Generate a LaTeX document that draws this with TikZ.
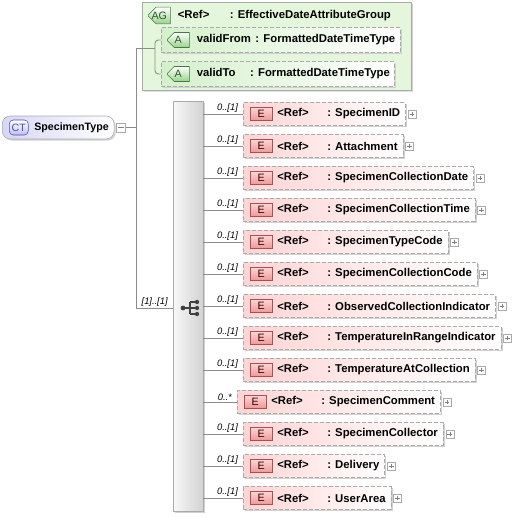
\documentclass[tikz,border=0pt]{standalone}
\usepackage{fontspec}
\setmainfont{Liberation Sans}
\usepackage{tikz}
\usetikzlibrary{positioning,shapes.misc,shadows}
\definecolor{linegray}{RGB}{140,140,140}
\definecolor{boxgray}{RGB}{170,170,170}
\definecolor{elpink}{RGB}{255,212,212}
\definecolor{ebadgered}{RGB}{238,150,150}
\definecolor{ebadgeline}{RGB}{170,80,80}
\definecolor{aggreen}{RGB}{228,247,220}
\definecolor{attrgreen}{RGB}{212,240,202}
\definecolor{abadgegreen}{RGB}{150,212,136}
\definecolor{abadgeline}{RGB}{70,120,70}
\definecolor{ctblue}{RGB}{214,214,248}
\definecolor{ctbadgeblue}{RGB}{190,190,246}
\definecolor{ctbadgeline}{RGB}{80,80,150}
\definecolor{seqlight}{RGB}{248,248,248}
\definecolor{seqdark}{RGB}{210,210,210}

\newcommand{\namefont}{\fontsize{8.5}{10}\selectfont\bfseries}
\newcommand{\cardfont}{\fontsize{7}{8}\selectfont\itshape}
\newcommand{\badgefont}{\fontsize{8}{9}\selectfont}

\tikzset{
  link/.style={draw=linegray, line width=0.7pt},
  boxshadow/.style={drop shadow={shadow xshift=1.2pt, shadow yshift=-1.2pt, fill=black!18, opacity=1}},
  elbox/.style={draw=boxgray, dash pattern=on 3pt off 1.5pt, left color=elpink, right color=white,
    minimum height=17pt, inner xsep=4pt, inner ysep=0pt, anchor=west, font=\namefont, boxshadow},
  ebadge/.style={draw=ebadgeline, top color=elpink, bottom color=ebadgered, text=black!80!red,
    minimum width=16.5pt, minimum height=9.75pt, inner sep=0pt, font=\badgefont},
  plusbox/.style={draw=boxgray, fill=white, minimum size=6pt, inner sep=0pt,
    path picture={\draw[gray] ([xshift=1.2pt]path picture bounding box.west) -- ([xshift=-1.2pt]path picture bounding box.east)
      ([yshift=-1.2pt]path picture bounding box.north) -- ([yshift=1.2pt]path picture bounding box.south);}},
  minusbox/.style={draw=boxgray, fill=white, minimum size=6.5pt, inner sep=0pt,
    path picture={\draw[gray] ([xshift=1.2pt]path picture bounding box.west) -- ([xshift=-1.2pt]path picture bounding box.east);}},
  card/.style={font=\cardfont, inner sep=0.5pt, anchor=south east, xshift=-3pt},
  seqbox/.style={draw=boxgray, left color=seqlight, right color=seqdark, minimum width=22.5pt,
    minimum height=307.5pt, boxshadow},
  ctbox/.style={draw=boxgray, rounded corners=6pt, left color=ctblue, right color=white, anchor=west,
    minimum height=17.25pt, inner xsep=4pt, font=\fontsize{8}{10}\selectfont\bfseries, boxshadow},
  ctbadge/.style={draw=ctbadgeline, rounded corners=3pt, top color=white, bottom color=ctbadgeblue,
    text=ctbadgeline, minimum width=14.25pt, minimum height=11.25pt, inner sep=0pt, font=\badgefont},
  agbox/.style={chamfered rectangle, chamfered rectangle corners={north west,south west},
    chamfered rectangle xsep=6pt, draw=boxgray, fill=aggreen, minimum width=201.75pt,
    minimum height=66pt, inner sep=0pt, anchor=west, boxshadow},
  attrbox/.style={chamfered rectangle, chamfered rectangle corners={north west,south west},
    chamfered rectangle xsep=5pt, draw=boxgray, dash pattern=on 3pt off 1.5pt, left color=attrgreen,
    right color=white, minimum height=18.75pt, inner sep=0pt, anchor=west, boxshadow},
  abadge/.style={chamfered rectangle, chamfered rectangle corners={north west,south west},
    chamfered rectangle xsep=2.5pt, draw=abadgeline, top color=white, bottom color=abadgegreen,
    text=abadgeline!70!black, minimum width=16.5pt, minimum height=11.25pt, inner sep=0pt, font=\badgefont},
  attrtext/.style={font=\namefont, inner sep=0pt},
  symline/.style={draw=black!75, line width=0.8pt}
}

\begin{document}
\begin{tikzpicture}[x=0.75pt, y=-0.75pt]
    \useasboundingbox (0,0) rectangle (512,518);

    % complex type
    \node[ctbox] (ct) at (2,127.5) {\hspace{20pt}SpecimenType\hspace{3pt}};
    \node[ctbadge, right=5.25pt of ct.west] (ctb) {CT};
    \node[minusbox, right=1.5pt of ct.east] (ctm) {};

    % attribute group
    \node[agbox] (ag) at (142,46) {};
    \node[abadge, anchor=west] (agb) at (148,15.5) {AG};
    \node[attrtext, right=5.25pt of agb] (agt) {\makebox[39pt][l]{<Ref>}: EffectiveDateAttributeGroup};
    \node[attrbox, minimum width=179.25pt] (vfrom) at (161,40) {};
    \node[abadge, right=4.5pt of vfrom.west] (vfromb) {A};
    \node[attrtext, right=5.25pt of vfromb] (vfromt) {\makebox[44pt][l]{validFrom}: FormattedDateTimeType};
    \node[attrbox, minimum width=174.75pt] (vto) at (161,74) {};
    \node[abadge, right=4.5pt of vto.west] (vtob) {A};
    \node[attrtext, right=5.25pt of vtob] (vtot) {\makebox[40pt][l]{validTo}: FormattedDateTimeType};

    % sequence
    \node[seqbox] (seq) at (188,306) {};
    \coordinate (trunktop) at (136.5,48);
    \coordinate (trunkbot) at (136.5,308);
    \coordinate (agfork) at (155,48);
    \draw[link] (ctm.east) -- (ctm.east -| trunktop);
    \draw[link] (agfork) -- (trunktop) -- (trunkbot) -- (seq.west |- trunkbot) node[card] {[1]..[1]};
    \draw[link, rounded corners=2.5pt] (vfrom.west) -| (agfork) |- (vto.west);
    \draw[symline] (183,308) -- (190,308) (190,302) -- (190,314)
        (190,302) -- (197,302) (190,308) -- (197,308) (190,314) -- (197,314);
    \fill[black!75] (183,308) circle (1.8pt) (197,302) circle (1.6pt) (197,308) circle (1.6pt) (197,314) circle (1.6pt);

    % elements
    \node[elbox] (e1) at (243,114) {\hspace{21.5pt}\makebox[37.5pt][l]{<Ref>}: SpecimenID};
    \node[ebadge, right=5.25pt of e1.west] (e1b) {E};
    \node[plusbox, right=1.5pt of e1.east] (e1p) {};
    \draw[link] (seq.east |- e1.west) -- (e1.west) node[card] {0..[1]};

    \node[elbox] (e2) at (243,146) {\hspace{21.5pt}\makebox[37.5pt][l]{<Ref>}: Attachment};
    \node[ebadge, right=5.25pt of e2.west] (e2b) {E};
    \node[plusbox, right=1.5pt of e2.east] (e2p) {};
    \draw[link] (seq.east |- e2.west) -- (e2.west) node[card] {0..[1]};

    \node[elbox] (e3) at (243,178) {\hspace{21.5pt}\makebox[37.5pt][l]{<Ref>}: SpecimenCollectionDate};
    \node[ebadge, right=5.25pt of e3.west] (e3b) {E};
    \node[plusbox, right=1.5pt of e3.east] (e3p) {};
    \draw[link] (seq.east |- e3.west) -- (e3.west) node[card] {0..[1]};

    \node[elbox] (e4) at (243,210) {\hspace{21.5pt}\makebox[37.5pt][l]{<Ref>}: SpecimenCollectionTime};
    \node[ebadge, right=5.25pt of e4.west] (e4b) {E};
    \node[plusbox, right=1.5pt of e4.east] (e4p) {};
    \draw[link] (seq.east |- e4.west) -- (e4.west) node[card] {0..[1]};

    \node[elbox] (e5) at (243,242) {\hspace{21.5pt}\makebox[37.5pt][l]{<Ref>}: SpecimenTypeCode};
    \node[ebadge, right=5.25pt of e5.west] (e5b) {E};
    \node[plusbox, right=1.5pt of e5.east] (e5p) {};
    \draw[link] (seq.east |- e5.west) -- (e5.west) node[card] {0..[1]};

    \node[elbox] (e6) at (243,274) {\hspace{21.5pt}\makebox[37.5pt][l]{<Ref>}: SpecimenCollectionCode};
    \node[ebadge, right=5.25pt of e6.west] (e6b) {E};
    \node[plusbox, right=1.5pt of e6.east] (e6p) {};
    \draw[link] (seq.east |- e6.west) -- (e6.west) node[card] {0..[1]};

    \node[elbox] (e7) at (243,306) {\hspace{21.5pt}\makebox[37.5pt][l]{<Ref>}: ObservedCollectionIndicator};
    \node[ebadge, right=5.25pt of e7.west] (e7b) {E};
    \node[plusbox, right=1.5pt of e7.east] (e7p) {};
    \draw[link] (seq.east |- e7.west) -- (e7.west) node[card] {0..[1]};

    \node[elbox] (e8) at (243,338) {\hspace{21.5pt}\makebox[37.5pt][l]{<Ref>}: TemperatureInRangeIndicator};
    \node[ebadge, right=5.25pt of e8.west] (e8b) {E};
    \node[plusbox, right=1.5pt of e8.east] (e8p) {};
    \draw[link] (seq.east |- e8.west) -- (e8.west) node[card] {0..[1]};

    \node[elbox] (e9) at (243,370) {\hspace{21.5pt}\makebox[37.5pt][l]{<Ref>}: TemperatureAtCollection};
    \node[ebadge, right=5.25pt of e9.west] (e9b) {E};
    \node[plusbox, right=1.5pt of e9.east] (e9p) {};
    \draw[link] (seq.east |- e9.west) -- (e9.west) node[card] {0..[1]};

    \node[elbox] (e10) at (237,402) {\hspace{21.5pt}\makebox[37.5pt][l]{<Ref>}: SpecimenComment};
    \node[ebadge, right=5.25pt of e10.west] (e10b) {E};
    \node[plusbox, right=1.5pt of e10.east] (e10p) {};
    \draw[link] (seq.east |- e10.west) -- (e10.west) node[card] {0..*};

    \node[elbox] (e11) at (243,434) {\hspace{21.5pt}\makebox[37.5pt][l]{<Ref>}: SpecimenCollector};
    \node[ebadge, right=5.25pt of e11.west] (e11b) {E};
    \node[plusbox, right=1.5pt of e11.east] (e11p) {};
    \draw[link] (seq.east |- e11.west) -- (e11.west) node[card] {0..[1]};

    \node[elbox] (e12) at (243,466) {\hspace{21.5pt}\makebox[37.5pt][l]{<Ref>}: Delivery};
    \node[ebadge, right=5.25pt of e12.west] (e12b) {E};
    \node[plusbox, right=1.5pt of e12.east] (e12p) {};
    \draw[link] (seq.east |- e12.west) -- (e12.west) node[card] {0..[1]};

    \node[elbox] (e13) at (243,498) {\hspace{21.5pt}\makebox[37.5pt][l]{<Ref>}: UserArea};
    \node[ebadge, right=5.25pt of e13.west] (e13b) {E};
    \node[plusbox, right=1.5pt of e13.east] (e13p) {};
    \draw[link] (seq.east |- e13.west) -- (e13.west) node[card] {0..[1]};
\end{tikzpicture}
\end{document}
